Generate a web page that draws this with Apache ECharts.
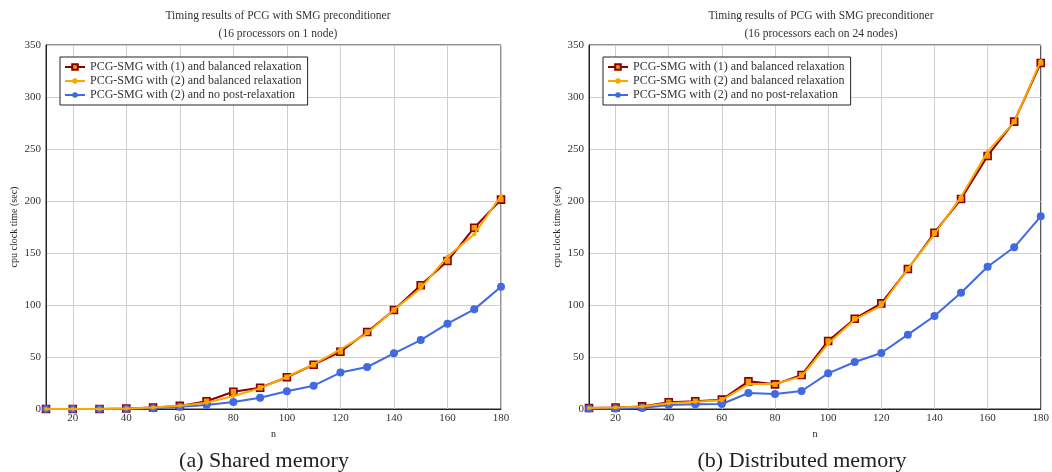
<!DOCTYPE html>
<html>
<head>
<meta charset="utf-8">
<script src="https://cdn.jsdelivr.net/npm/echarts@6/dist/echarts.min.js"></script>
<style>html,body{margin:0;padding:0;background:#fff}#c{width:1052px;height:472px}</style>
</head>
<body>
<div id="c"></div>
<script>
const nValues = [10,20,30,40,50,60,70,80,90,100,110,120,130,140,150,160,170,180];
const seriesNames = [
  'PCG-SMG with (1) and balanced relaxation',
  'PCG-SMG with (2) and balanced relaxation',
  'PCG-SMG with (2) and no post-relaxation'
];
// (a) Shared memory
const sharedBal1 = [0,0,0,0.5,1.5,3,7.5,16.6,20.5,30.5,42.6,55,74,95.2,119,142.3,174.3,201.3];
const sharedBal2 = [0,0,0,0.5,1.5,3.2,6,12.5,20,31,43,57.4,72.8,95.5,116,146.5,168,205];
const sharedNoPost = [0,0,0,0.3,0.7,2.2,3.8,6.7,10.9,17,22.4,35,40.4,53.5,66.3,82,95.8,117.6];
// (b) Distributed memory
const distBal1 = [1,1.5,2.5,6.5,7.5,9,26.6,23.7,32.7,65.4,86.8,101.6,134.6,169.5,201.9,243.3,276.3,332.7];
const distBal2 = [1,1.5,2.5,5.5,7,8.5,24,24,31.4,62.8,86,99.3,135,168,204,247.4,276,334.6];
const distNoPost = [0.5,0.5,1,3.8,4.5,4.8,15.4,14.4,17.3,34.3,45.2,53.8,71.5,89.4,111.8,136.8,155.5,185.3];
const yTicks = [0,50,100,150,200,250,300,350];
const xTickLabels = [20,40,60,80,100,120,140,160,180];
const mainTitle = 'Timing results of PCG with SMG preconditioner';
const subTitles = ['(16 processors on 1 node)', '(16 processors each on 24 nodes)'];
const captions = ['(a) Shared memory', '(b) Distributed memory'];
const yLabel = 'cpu clock time (sec)';
const xLabel = 'n';

const FONT = '"Liberation Serif", "DejaVu Serif", serif';
const colors = ['#8B0000', '#FFA500', '#4169E1'];

function pairs(arr){ return nValues.map((n,i)=>[n, arr[i]]); }

const grids = [
  {left: 46, top: 45, width: 455, height: 364},
  {left: 589, top: 45, width: 454, height: 364}
];

const chart = echarts.init(document.getElementById('c'));

function xAxisFor(i){
  return {
    gridIndex: i, type: 'value', min: 10, max: 180, interval: 10,
    name: xLabel, nameLocation: 'middle', nameGap: 16,
    nameTextStyle: {fontFamily: FONT, fontSize: 10, color: '#222'},
    axisLine: {show: true, lineStyle: {color: '#222', width: 1}},
    axisTick: {show: false},
    axisLabel: {fontFamily: FONT, fontSize: 11, color: '#333', margin: 4,
      formatter: v => xTickLabels.indexOf(v) >= 0 ? String(v) : ''},
    splitLine: {show: true, lineStyle: {color: ['rgba(0,0,0,0)', '#cfcfcf'], width: 1}}
  };
}
function yAxisFor(i){
  return {
    gridIndex: i, type: 'value', min: yTicks[0], max: yTicks[yTicks.length-1], interval: 50,
    name: yLabel, nameLocation: 'middle', nameGap: 27,
    nameTextStyle: {fontFamily: FONT, fontSize: 10, color: '#222'},
    axisLine: {show: true, lineStyle: {color: '#222', width: 1}},
    axisTick: {show: false},
    axisLabel: {fontFamily: FONT, fontSize: 11, color: '#333', margin: 5},
    splitLine: {show: true, lineStyle: {color: '#cfcfcf', width: 1}}
  };
}
function seriesFor(i, d1, d2, d3){
  return [
    {name: seriesNames[0], type: 'line', xAxisIndex: i, yAxisIndex: i, data: pairs(d1),
     symbol: 'rect', symbolSize: 7, z: 2, lineStyle: {color: colors[0], width: 2},
     itemStyle: {color: '#F29A00', borderColor: colors[0], borderWidth: 1.6}},
    {name: seriesNames[2], type: 'line', xAxisIndex: i, yAxisIndex: i, data: pairs(d3),
     symbol: 'circle', symbolSize: 8, z: 3, lineStyle: {color: colors[2], width: 2},
     itemStyle: {color: colors[2]}},
    {name: seriesNames[1], type: 'line', xAxisIndex: i, yAxisIndex: i, data: pairs(d2),
     symbol: 'circle', symbolSize: 4, z: 4, lineStyle: {color: colors[1], width: 2},
     itemStyle: {color: colors[1]}}
  ];
}
function legendFor(i, left){
  return {
    data: seriesNames, left: left, top: 57, orient: 'vertical',
    itemWidth: 20, itemHeight: 7, itemGap: 2,
    padding: [4, 6, 4, 4],
    borderColor: '#222', borderWidth: 1, backgroundColor: '#fff',
    textStyle: {fontFamily: FONT, fontSize: 12, color: '#333'}
  };
}

const titleTexts = [];
[273, 816].forEach((cx, i) => {
  titleTexts.push({text: mainTitle, left: cx, top: 5, textAlign: 'center',
    textStyle: {fontFamily: FONT, fontSize: 11.5, fontWeight: 'normal', color: '#333'}});
  titleTexts.push({text: subTitles[i], left: cx, top: 23, textAlign: 'center',
    textStyle: {fontFamily: FONT, fontSize: 11.5, fontWeight: 'normal', color: '#333'}});
});
[259, 797].forEach((cx, i) => {
  titleTexts.push({text: captions[i], left: cx, top: 445, textAlign: 'center',
    textStyle: {fontFamily: FONT, fontSize: 22, fontWeight: 'normal', color: '#222'}});
});

chart.setOption({
  animation: false,
  backgroundColor: '#fff',
  title: titleTexts,
  grid: grids.map(g => Object.assign({show: true, borderColor: '#222', borderWidth: 1, backgroundColor: 'transparent', containLabel: false}, g)),
  xAxis: [xAxisFor(0), xAxisFor(1)],
  yAxis: [yAxisFor(0), yAxisFor(1)],
  legend: [legendFor(0, 60), legendFor(1, 603)],
  series: seriesFor(0, sharedBal1, sharedBal2, sharedNoPost).concat(seriesFor(1, distBal1, distBal2, distNoPost))
});
</script>
</body>
</html>
